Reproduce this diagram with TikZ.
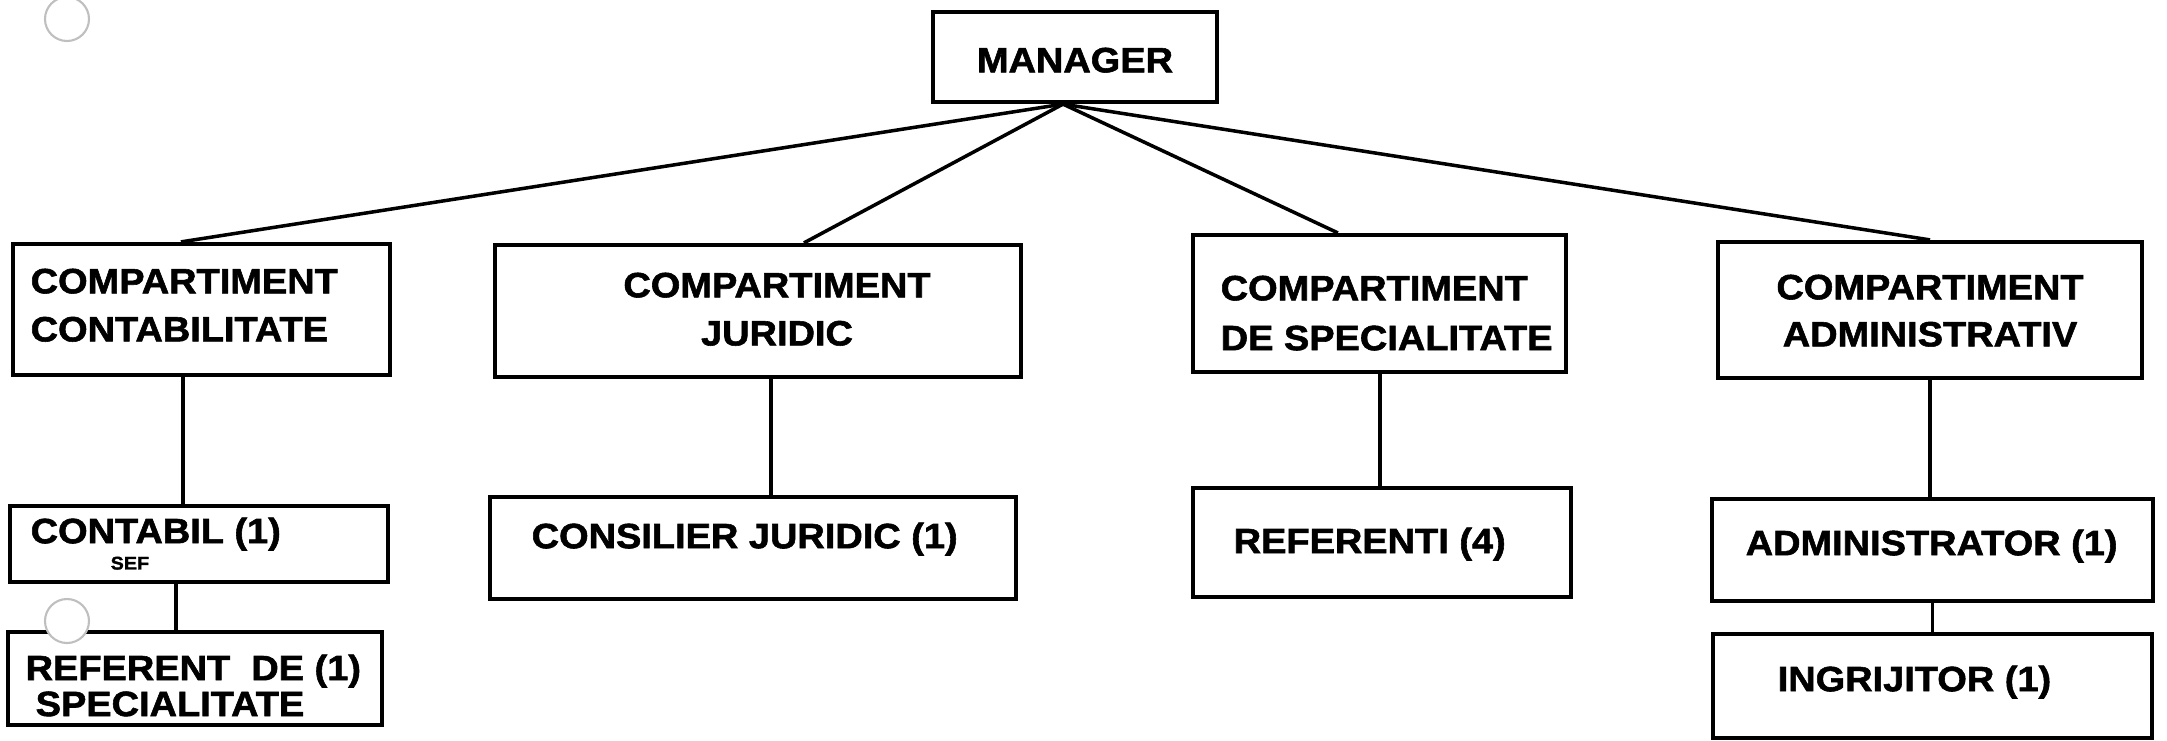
\documentclass[tikz,border=0pt]{standalone}
\usepackage{fontspec}
\newfontfamily\orgfont{Liberation Sans}[FakeStretch=1.08,BoldFeatures={FakeBold=1.6}]
\begin{document}
\begin{tikzpicture}[x=0.1mm,y=-0.1mm,
        box/.style={draw,line width=1.2pt,inner sep=0pt},
        txt/.style={inner sep=0pt,anchor=north west,align=left,
            font=\orgfont\bfseries\fontsize{10}{13.7}\selectfont},
        link/.style={line width=1pt},
        hole/.style={draw=black!25,line width=0.6pt,fill=white}]
    \useasboundingbox (0,0) rectangle (2167,740);
    % boxes
    \node[box,minimum width=28.4mm,minimum height=9mm] (mgr) at (1075,57) {};
    \node[box,minimum width=37.7mm,minimum height=13.1mm] (contab) at (201.5,309.5) {};
    \node[box,minimum width=52.6mm,minimum height=13.2mm] (jur) at (758,311) {};
    \node[box,minimum width=37.3mm,minimum height=13.7mm] (spec) at (1379.5,303.5) {};
    \node[box,minimum width=42.4mm,minimum height=13.6mm] (adm) at (1930,310) {};
    \node[box,minimum width=37.8mm,minimum height=7.6mm] (cbl) at (199,544) {};
    \node[box,minimum width=37.4mm,minimum height=9.3mm] (ref) at (195,678.5) {};
    \node[box,minimum width=52.6mm,minimum height=10.2mm] (cons) at (753,548) {};
    \node[box,minimum width=37.8mm,minimum height=10.9mm] (refi) at (1382,542.5) {};
    \node[box,minimum width=44.1mm,minimum height=10.2mm] (admr) at (1932.5,550) {};
    \node[box,minimum width=43.9mm,minimum height=10.4mm] (ingr) at (1932.5,686) {};
    % texts
    \node[txt,anchor=north] (mgrT) at (1075,47) {MANAGER};
    \node[txt] (contabT) at (30,268) {COMPARTIMENT\\CONTABILITATE};
    \node[txt,anchor=north,align=center] (jurT) at (777,272) {COMPARTIMENT\\JURIDIC};
    \node[txt,font=\orgfont\bfseries\fontsize{10}{14.2}\selectfont] (specT) at (1220,275)
        {COMPARTIMENT\\DE SPECIALITATE};
    \node[txt,anchor=north,align=center,font=\orgfont\bfseries\fontsize{10}{13.4}\selectfont] (admT) at (1930,274)
        {COMPARTIMENT\\ADMINISTRATIV};
    \node[txt] (cblT) at (30,517) {CONTABIL (1)};
    \node[txt,font=\orgfont\bfseries\fontsize{5.2}{6}\selectfont] (sefT) at (110,556) {SEF};
    \node[txt,font=\orgfont\bfseries\fontsize{10}{10.2}\selectfont] (refT) at (25,654)
        {REFERENT\ \ DE (1)\\\hspace*{1mm}SPECIALITATE};
    \node[txt] (consT) at (531,522) {CONSILIER JURIDIC (1)};
    \node[txt] (refiT) at (1233,527) {REFERENTI (4)};
    \node[txt] (admrT) at (1745,529) {ADMINISTRATOR (1)};
    \node[txt] (ingrT) at (1777,665) {INGRIJITOR (1)};
    % connectors
    \coordinate (hub) at ([xshift=-1.2mm]mgr.south);
    \draw[link] (hub) -- ([shift={(170,0)}]contab.north west);
    \draw[link] (hub) -- ([shift={(311,0)}]jur.north west);
    \draw[link] (hub) -- ([shift={(147,0)}]spec.north west);
    \draw[link] (hub) -- (adm.north);
    \draw[link] ([shift={(172,0)}]contab.south west) coordinate (c1) -- (c1 |- cbl.north);
    \draw[link] ([shift={(168,0)}]cbl.south west) coordinate (c2) -- (c2 |- ref.north);
    \draw[link] ([shift={(278,0)}]jur.south west) coordinate (c3) -- (c3 |- cons.north);
    \draw[link] ([shift={(189,0)}]spec.south west) coordinate (c4) -- (c4 |- refi.north);
    \draw[link] (adm.south) -- (adm.south |- admr.north);
    \draw[link] (admr.south) -- (admr.south |- ingr.north);
    % punch holes
    \draw[hole] (67,19) circle[radius=2.2mm];
    \draw[hole] (67,621) circle[radius=2.2mm];
\end{tikzpicture}
\end{document}
